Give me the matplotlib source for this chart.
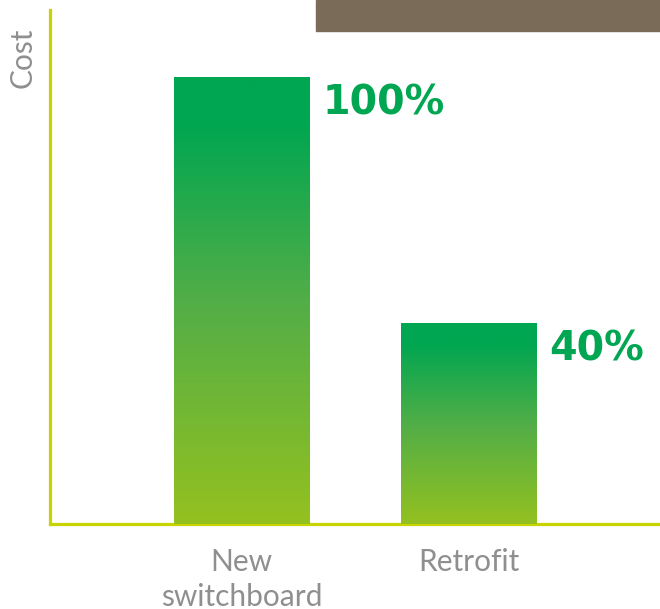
import numpy as np
import matplotlib
matplotlib.use("Agg")
import matplotlib.pyplot as plt
from matplotlib.colors import LinearSegmentedColormap

# data
categories = ["New\nswitchboard", "Retrofit"]
heights = [100, 45]
value_labels = ["100%", "40%"]

green = "#00a651"
lime = "#95c11f"
axis_col = "#c8d400"
grey = "#8f8f8f"
brown = "#7a6a58"

cmap = LinearSegmentedColormap.from_list(
    "bar", [(0.0, lime), (0.5, "#52ae47"), (0.9, green), (1.0, green)])

fig = plt.figure(figsize=(6.6, 6.09), dpi=100)
ax = fig.add_axes([50 / 660, (609 - 524) / 609, 610 / 660, 514 / 609])

x = np.arange(len(categories))
width = 0.595

grad = np.linspace(0, 1, 256).reshape(-1, 1)
for xi, h, lab in zip(x, heights, value_labels):
    ax.imshow(grad, cmap=cmap, origin="lower", aspect="auto",
              extent=(xi - width / 2, xi + width / 2, -0.5, h),
              zorder=3, interpolation="bicubic")
    ax.text(xi + width / 2 + 0.06, h - 5.8, lab, color=green,
            fontsize=28.5, fontweight="bold", ha="left", va="center",
            family="DejaVu Sans")

ax.set_xlim(-0.844, 1.844)
ax.set_ylim(0, 115.2)

for s in ["top", "right"]:
    ax.spines[s].set_visible(False)
for s in ["left", "bottom"]:
    ax.spines[s].set_color(axis_col)
    ax.spines[s].set_linewidth(2.3)
    ax.spines[s].set_zorder(2)

ax.set_yticks([])
ax.set_xticks(x)
ax.set_xticklabels(categories, fontsize=21.5, color=grey, linespacing=1.3,
                   family="Lato")
ax.tick_params(axis="x", length=0, pad=17)

fig.text(23 / 660, 1 - 58 / 609, "Cost", rotation=90, fontsize=21.5, color=grey,
         ha="center", va="center", family="Lato")

# brown banner at top
fig.patches.append(plt.Rectangle((316 / 660, 1 - 31 / 609), 344 / 660, 31 / 609,
                                 transform=fig.transFigure, color=brown,
                                 zorder=5))

fig.savefig("out.png", dpi=100)
